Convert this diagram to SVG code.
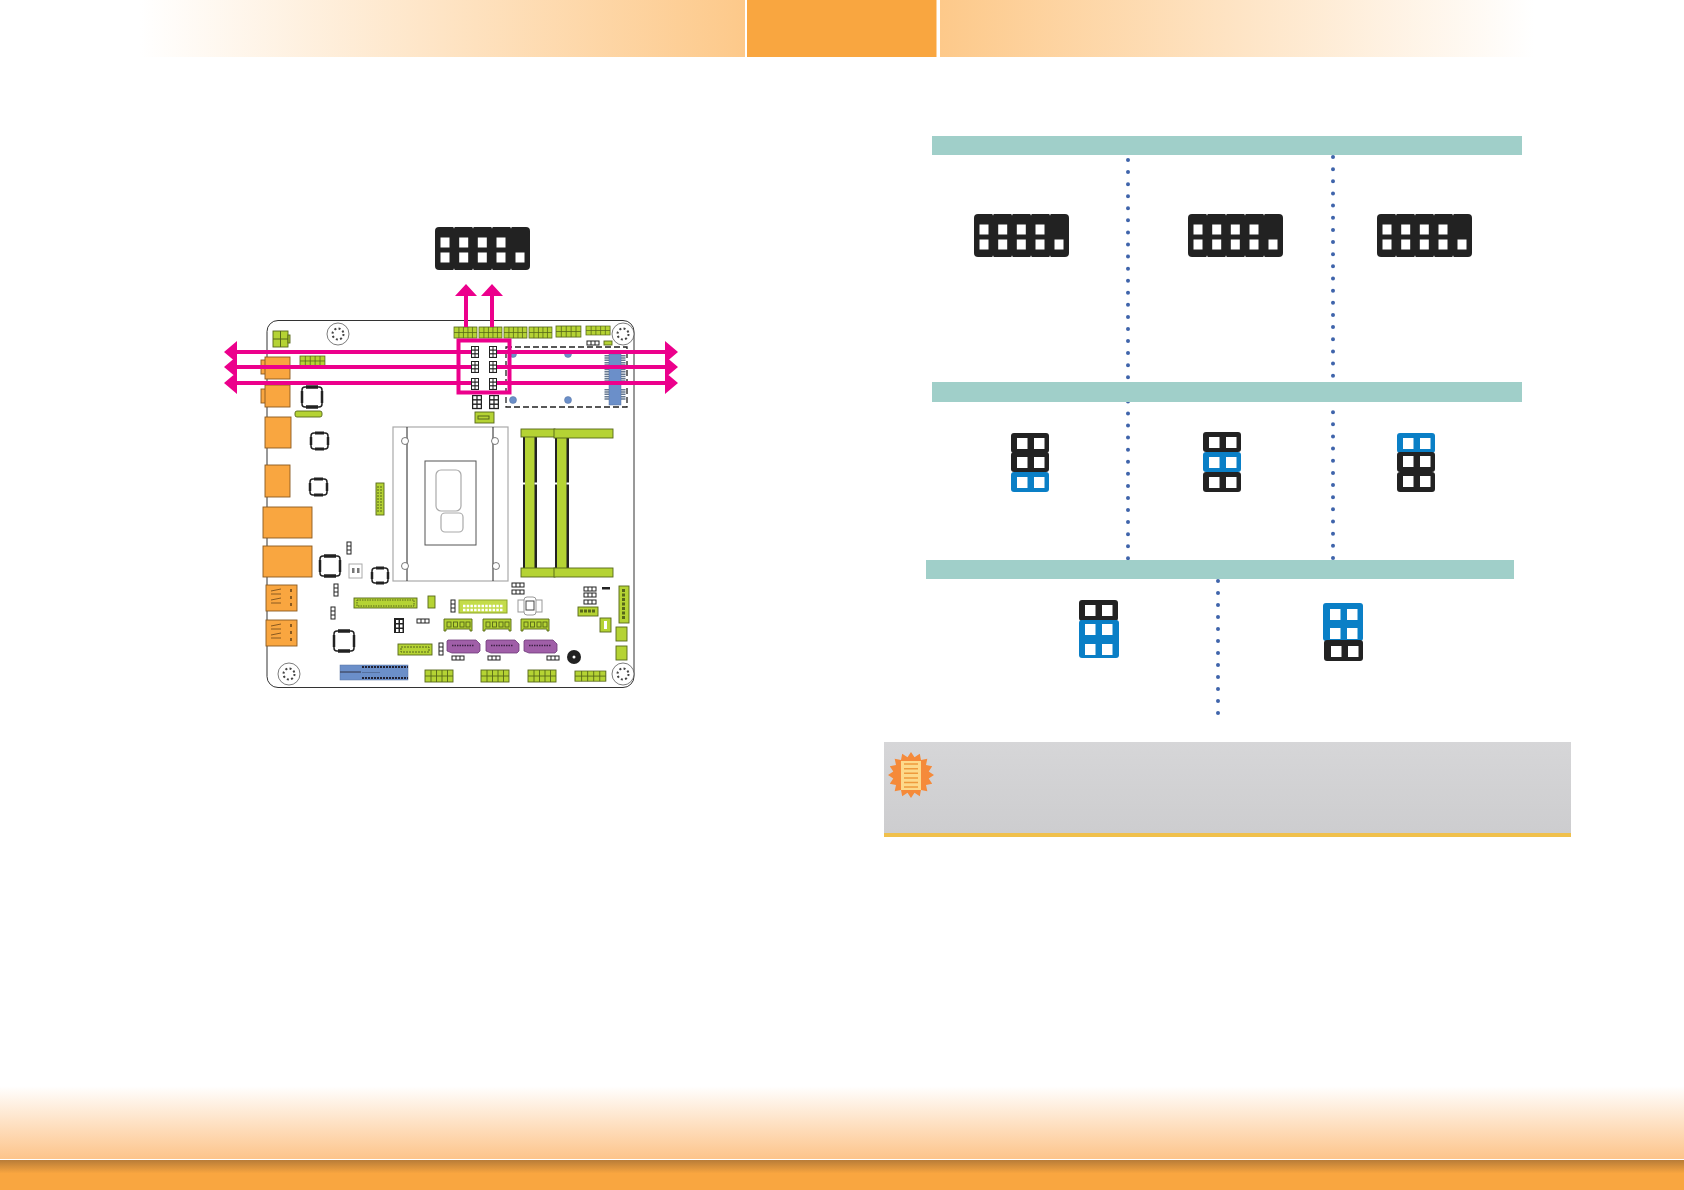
<svg xmlns="http://www.w3.org/2000/svg" width="1684" height="1190" viewBox="0 0 1684 1190">
<style>
.g{fill:#b5d334;stroke:#56661a;stroke-width:.9}
.or{fill:#f9a640;stroke:#8a5a20;stroke-width:.9}
.pu{fill:#a05fa8;stroke:#6e3a78;stroke-width:.8}
.wh{fill:#fff;stroke:#222;stroke-width:1}
.pk{stroke:#ec008c;stroke-width:4;fill:none}
.pf{fill:#ec008c}
.bar{fill:#a0cfc9}
.dot{fill:none;stroke:#3f64ab;stroke-width:4;stroke-linecap:round}
.s{fill:#fff}
.hole{fill:#fff;stroke:#444;stroke-width:.7}
.cpu{fill:#fff;stroke:#aaa;stroke-width:1.2}
.chip{fill:#fff;stroke:#222;stroke-width:1.5}
.bk{fill:#222}
.bl{fill:#0a7fc6}
.bb{fill:#6b8fc9;stroke:#55709f;stroke-width:.5}
</style>
<defs>
<linearGradient id="hl" x1="0" x2="1" y1="0" y2="0"><stop offset="0" stop-color="#fff"/><stop offset="1" stop-color="#fdc98a"/></linearGradient>
<linearGradient id="hr" x1="1" x2="0" y1="0" y2="0"><stop offset="0" stop-color="#fff"/><stop offset="1" stop-color="#fdc98a"/></linearGradient>
<linearGradient id="fa" x1="0" x2="0" y1="0" y2="1"><stop offset="0" stop-color="#fff"/><stop offset="1" stop-color="#fdc48a"/></linearGradient>
<linearGradient id="fb" x1="0" x2="0" y1="0" y2="1"><stop offset="0" stop-color="#b87c38"/><stop offset=".45" stop-color="#f9a640"/><stop offset="1" stop-color="#f9a640"/></linearGradient>
<linearGradient id="ng" x1="0" x2="0" y1="0" y2="1"><stop offset="0" stop-color="#d6d6d8"/><stop offset="1" stop-color="#cdcdcf"/></linearGradient>
<g id="conn">
<rect x="0" y="0" width="95" height="43" rx="4" class="bk"/>
<path d="M19 0v1.200M38 0v1.200M57 0v1.200M76 0v1.200M19 43v-1.200M38 43v-1.200M57 43v-1.200M76 43v-1.200" stroke="#fff" stroke-width="1"/>
<rect x="5.500" y="10.500" width="9" height="10" class="s"/><rect x="24.200" y="10.500" width="9" height="10" class="s"/><rect x="42.800" y="10.500" width="9" height="10" class="s"/><rect x="61.500" y="10.500" width="9" height="10" class="s"/>
<rect x="5.500" y="25.500" width="9" height="10" class="s"/><rect x="24.200" y="25.500" width="9" height="10" class="s"/><rect x="42.800" y="25.500" width="9" height="10" class="s"/><rect x="61.500" y="25.500" width="9" height="10" class="s"/><rect x="80.500" y="25.500" width="9" height="10" class="s"/>
</g>
<g id="jr"><rect x="7" y="5" width="10.500" height="11" class="s"/><rect x="24" y="5" width="10.500" height="11" class="s"/></g>
<g id="mini"><rect width="8" height="12" class="bk"/><rect x="1" y="1" width="2.500" height="2.500" class="s"/><rect x="4.500" y="1" width="2.500" height="2.500" class="s"/><rect x="1" y="4.700" width="2.500" height="2.500" class="s"/><rect x="4.500" y="4.700" width="2.500" height="2.500" class="s"/><rect x="1" y="8.400" width="2.500" height="2.500" class="s"/><rect x="4.500" y="8.400" width="2.500" height="2.500" class="s"/></g>
<g id="hole"><circle r="11" class="hole"/><circle r="5.500" fill="none" stroke="#444" stroke-width="2" stroke-dasharray="2 2.300"/></g>
<g id="w3h"><rect width="12" height="4" class="wh"/><path d="M4 0v4M8 0v4" stroke="#222"/></g>
<g id="w3v"><rect width="4" height="12" class="wh"/><path d="M0 4h4M0 8h4" stroke="#222"/></g>
<g id="gh10"><rect width="28" height="12" class="g"/><path d="M6 0v12M11.500 0v12M17 0v12M22.500 0v12M0 6h28" stroke="#56661a" stroke-width=".9"/></g>
<g id="gh4"><path d="M0 0h28v12h-2v-2h-24v2h-2z" class="g"/><rect x="3" y="3" width="4" height="5" class="g"/><rect x="9.500" y="3" width="4" height="5" class="g"/><rect x="16" y="3" width="4" height="5" class="g"/><rect x="22" y="3" width="4" height="5" class="g"/></g>
<g id="sata"><path d="M0 1l1-1h28l4 4v7l-2 2h-26l-5-2z" class="pu"/><path d="M5 5.500h22" stroke="#3d2245" stroke-width="1.500" stroke-dasharray="1.500 1"/></g>
</defs>

<g id="header">
<rect x="140" y="0" width="605" height="57" fill="url(#hl)"/>
<rect x="747" y="0" width="189.500" height="57" fill="#f9a640"/>
<rect x="940" y="0" width="594" height="57" fill="url(#hr)"/>
</g>
<g id="footer">
<rect x="0" y="1086" width="1684" height="73" fill="url(#fa)"/>
<rect x="0" y="1160" width="1684" height="30" fill="url(#fb)"/>
</g>

<g id="board">
<rect x="267" y="320.500" width="367" height="367" rx="11" fill="#fff" stroke="#333" stroke-width="1"/>
<use href="#hole" x="338" y="334"/><use href="#hole" x="623" y="334"/><use href="#hole" x="289" y="674"/><use href="#hole" x="623" y="674"/>
<g id="power"><rect x="273" y="331" width="15" height="16" class="g"/><rect x="288" y="335" width="2" height="8" class="g"/><path d="M280.500 331v16M273 339h15" stroke="#56661a"/></g>
<g id="top-headers">
<use href="#gh10" transform="translate(454 327) scale(.82 .92)"/><use href="#gh10" transform="translate(479 327) scale(.82 .92)"/><use href="#gh10" transform="translate(504 327) scale(.82 .92)"/><use href="#gh10" transform="translate(529 327) scale(.82 .92)"/><use href="#gh10" transform="translate(556 326) scale(.89 .92)"/><use href="#gh10" transform="translate(586 326) scale(.86 .75)"/>
<use href="#w3h" x="587" y="341"/><rect x="604" y="341" width="8" height="4" class="g"/><use href="#gh10" transform="translate(300 356) scale(.89 .83)"/></g>
<g id="io">
<rect x="261" y="360" width="5" height="14" class="or"/><rect x="265" y="357" width="25" height="22" class="or"/>
<rect x="261" y="389" width="5" height="14" class="or"/><rect x="265" y="385" width="25" height="22" class="or"/>
<rect x="265" y="417" width="26" height="31" class="or"/><rect x="265" y="465" width="25" height="32" class="or"/>
<rect x="263" y="507" width="49" height="31" class="or"/><rect x="263" y="546" width="49" height="31" class="or"/>
<rect x="266" y="585" width="31" height="26" class="or"/><path d="M271 591l10-2M271 594h10M271 600l10-2M271 603h10" stroke="#8a5a20" fill="none"/><path d="M291 589v3M291 596v3M291 603v3" stroke="#8a5a20" stroke-width="2"/>
<rect x="266" y="620" width="31" height="26" class="or"/><path d="M271 626l10-2M271 629h10M271 635l10-2M271 638h10" stroke="#8a5a20" fill="none"/><path d="M291 624v3M291 631v3M291 638v3" stroke="#8a5a20" stroke-width="2"/>
</g>
<g id="chips">
<rect x="302" y="387" width="20" height="20" rx="3" class="chip"/><path d="M306 387h12M306 407h12" stroke="#222" stroke-width="3.500"/><path d="M302 391v12M322 391v12" stroke="#222" stroke-width="2.500"/>
<rect x="311" y="433" width="17" height="16" rx="3" class="chip"/><path d="M315 433h9M315 449h9" stroke="#222" stroke-width="3"/><path d="M311 437v8M328 437v8" stroke="#222" stroke-width="2.500"/>
<rect x="310" y="479" width="17" height="16" rx="3" class="chip"/><path d="M314 479h9M314 495h9" stroke="#222" stroke-width="3"/><path d="M310 483v8M327 483v8" stroke="#222" stroke-width="2.500"/>
<rect x="320" y="556" width="20" height="20" rx="3" class="chip"/><path d="M324 556h12M324 576h12" stroke="#222" stroke-width="3.500"/><path d="M320 560v12M340 560v12" stroke="#222" stroke-width="2.500"/>
<rect x="372" y="568" width="16" height="15" rx="3" class="chip"/><path d="M376 568h8M376 583h8" stroke="#222" stroke-width="3"/><path d="M372 572v7M388 572v7" stroke="#222" stroke-width="2.500"/>
<rect x="334" y="631" width="20" height="20" rx="3" class="chip"/><path d="M338 631h12M338 651h12" stroke="#222" stroke-width="3.500"/><path d="M334 635v12M354 635v12" stroke="#222" stroke-width="2.500"/>
</g>
<rect x="295" y="411" width="27" height="6" rx="2" class="g"/>
<g id="cpu">
<rect x="393" y="427" width="115" height="154" class="cpu"/>
<path d="M407 427v154M493 427v154" stroke="#222"/>
<circle cx="405" cy="441" r="3.500" class="hole"/><circle cx="495" cy="441" r="3.500" class="hole"/><circle cx="405" cy="566" r="3.500" class="hole"/><circle cx="496" cy="566" r="3.500" class="hole"/>
<rect x="425" y="461" width="51" height="84" fill="#fff" stroke="#555"/>
<rect x="436" y="470" width="25" height="41" rx="5" class="cpu"/><rect x="441" y="513" width="22" height="19" rx="4" class="cpu"/>
</g>
<g id="dimm">
<rect x="523" y="437" width="14" height="131" fill="#b5d334"/><rect x="523" y="437" width="2" height="131" class="bk"/><rect x="534.500" y="437" width="2.500" height="131" class="bk"/>
<rect x="555" y="437" width="14" height="131" fill="#b5d334"/><rect x="555" y="437" width="2" height="131" class="bk"/><rect x="566.500" y="437" width="2.500" height="131" class="bk"/>
<path d="M523 483.500h2M534.500 483.500h2.500M555 483.500h2M566.500 483.500h2.500" stroke="#fff" stroke-width="2"/>
<rect x="521" y="429" width="34" height="8" class="g"/><rect x="554" y="429" width="59" height="9" class="g"/>
<rect x="521" y="568" width="34" height="9" class="g"/><rect x="554" y="568" width="59" height="9" class="g"/>
</g>
<g id="m2">
<rect x="506" y="347" width="121" height="60" fill="none" stroke="#222" stroke-width="1.300" stroke-dasharray="6 3"/>
<circle cx="513" cy="354" r="3.500" class="bb"/><circle cx="568" cy="354" r="3.500" class="bb"/><circle cx="513" cy="400" r="3.500" class="bb"/><circle cx="568" cy="400" r="3.500" class="bb"/>
<path d="M607 355v26M623 355v26M607 389v11M623 389v11" stroke="#66788f" stroke-width="5" stroke-dasharray="1.500 .8"/>
<rect x="609" y="354" width="12" height="51" class="bb"/>
</g>
<g id="small-parts">
<use href="#mini" x="471" y="346"/><use href="#mini" x="489" y="346"/><use href="#mini" x="471" y="361"/><use href="#mini" x="489" y="361"/><use href="#mini" x="471" y="378"/><use href="#mini" x="489" y="378"/>
<use href="#mini" transform="translate(472 395) scale(1.250 1.180)"/><use href="#mini" transform="translate(489 395) scale(1.250 1.180)"/>
<rect x="475" y="412" width="19" height="11" class="g"/><rect x="478" y="416" width="11" height="3" fill="none" stroke="#56661a"/>
<rect x="376" y="483" width="8" height="32" class="g"/><path d="M378 486v26M381 486v26" stroke="#56661a" stroke-dasharray="2 1"/>
<rect x="349" y="564" width="13" height="14" fill="#fff" stroke="#aaa"/><rect x="352" y="568" width="2.500" height="5" fill="#777"/><rect x="357" y="568" width="2.500" height="5" fill="#777"/>
<use href="#w3v" x="347" y="542"/><use href="#w3v" x="334" y="584"/><use href="#w3v" x="331" y="607"/><use href="#w3v" x="451" y="600"/><use href="#w3v" x="439" y="643"/>
<rect x="354" y="598" width="63" height="10" class="g"/><rect x="357" y="600" width="57" height="6" fill="none" stroke="#56661a" stroke-dasharray="1.500 1"/>
<rect x="428" y="596" width="7" height="12" class="g"/>
<rect x="459" y="600" width="48" height="13" fill="#c4dc4a" stroke="#8da52a"/><path d="M463 606h40M463 610h40" stroke="#fff" stroke-width="2.500" stroke-dasharray="2.500 1.200"/>
<use href="#w3h" x="512" y="583"/><use href="#w3h" x="512" y="590"/>
<g id="battery"><rect x="518" y="600" width="24" height="12" fill="#fff" stroke="#999"/><rect x="524" y="597" width="12" height="18" rx="3" fill="#fff" stroke="#999"/><rect x="526" y="601" width="8" height="9" fill="#fff" stroke="#444"/></g>
<use href="#w3h" x="584" y="587"/><use href="#w3h" x="584" y="593"/><use href="#w3h" x="584" y="600"/><rect x="602" y="587" width="8" height="2.500" class="bk"/>
<rect x="578" y="607" width="20" height="9" class="g"/><path d="M580 611h16" stroke="#56661a" stroke-width="3" stroke-dasharray="3 1"/>
<rect x="619" y="586" width="10" height="37" class="g"/><path d="M623.500 589v31" stroke="#56661a" stroke-width="3" stroke-dasharray="3 1.500"/>
<rect x="600" y="618" width="11" height="14" class="g"/><rect x="604" y="621" width="3" height="8" class="s"/>
<rect x="616" y="627" width="11" height="14" class="g" stroke="#222"/><rect x="616" y="646" width="11" height="14" class="g"/>
<use href="#gh4" x="444" y="619"/><use href="#gh4" x="483" y="619"/><use href="#gh4" x="521" y="619"/>
<use href="#sata" x="447" y="640"/><use href="#sata" x="486" y="640"/><use href="#sata" x="524" y="640"/>
<rect x="398" y="644" width="34" height="11" class="g"/><rect x="401" y="647" width="28" height="5" fill="none" stroke="#56661a" stroke-dasharray="2 1"/>
<rect x="394" y="618" width="10" height="15" class="bk"/><path d="M396 620h2.500v3h-2.500zM400 620h2.500v3h-2.500zM396 624.500h2.500v3h-2.500zM400 624.500h2.500v3h-2.500zM396 629h2.500v3h-2.500zM400 629h2.500v3h-2.500z" class="s"/>
<use href="#w3h" x="417" y="619"/><use href="#w3h" x="452" y="656"/><use href="#w3h" x="488" y="656"/><use href="#w3h" x="547" y="656"/>
<circle cx="574" cy="657" r="7" fill="#222"/><circle cx="574" cy="657" r="1.500" class="s"/>
</g>
<g id="pcie"><rect x="340" y="665" width="68" height="15" class="bb"/><path d="M362 672.500h18" stroke="#55709f"/><path d="M362 667h46M362 678h46" stroke="#223" stroke-width="2" stroke-dasharray="2 1"/><path d="M340 672h21" stroke="#334"/></g>
<g id="bottom-headers"><use href="#gh10" x="425" y="670"/><use href="#gh10" x="481" y="670"/><use href="#gh10" x="528" y="670"/><use href="#gh10" transform="translate(575 671) scale(1.100 .85)"/></g>
</g>

<g id="connector-main"><use href="#conn" x="435" y="227"/></g>

<g id="connectors">
<rect x="458.500" y="340.500" width="51" height="52" class="pk"/>
<path class="pk" d="M466 327V294M492 327V294M235 352H471M235 367H471M235 383H471M497 352H667M497 367H667M497 383H667"/>
<path class="pf" d="M466 284l11 12h-22zM492 284l11 12h-22zM224 352l13-11v22zM224 367l13-11v22zM224 383l13-11v22zM678 352l-13-11v22zM678 367l-13-11v22zM678 383l-13-11v22z"/>
</g>

<g id="dividers">
<path class="dot" stroke-dasharray="0 12.070" d="M1128 160V560"/>
<path class="dot" stroke-dasharray="0 12.150" d="M1333 157V560"/>
<path class="dot" stroke-dasharray="0 12" d="M1218 581V716"/>
</g>
<g id="bars">
<rect x="932" y="136" width="590" height="19" class="bar"/>
<rect x="932" y="382" width="590" height="20" class="bar"/>
<rect x="926" y="560" width="588" height="19" class="bar"/>
</g>

<g id="pins-1"><use href="#conn" x="974" y="214"/></g>
<g id="pins-2"><use href="#conn" x="1188" y="214"/></g>
<g id="pins-3"><use href="#conn" x="1377" y="214"/></g>

<g id="jumper-1">
<rect x="1011" y="433" width="38" height="20" rx="3" class="bk"/><use href="#jr" x="1010" y="433"/>
<rect x="1011" y="452" width="38" height="20" rx="3" class="bk"/><use href="#jr" x="1010" y="452"/>
<rect x="1011" y="472" width="38" height="20" rx="3" class="bl"/><use href="#jr" x="1010" y="472"/>
</g>
<g id="jumper-2">
<rect x="1203" y="432" width="38" height="20" rx="3" class="bk"/><use href="#jr" x="1202" y="432"/>
<rect x="1203" y="452" width="38" height="20" rx="3" class="bl"/><use href="#jr" x="1202" y="452"/>
<rect x="1203" y="472" width="38" height="20" rx="3" class="bk"/><use href="#jr" x="1202" y="472"/>
</g>
<g id="jumper-3">
<rect x="1397" y="433" width="38" height="20" rx="3" class="bl"/><use href="#jr" x="1396" y="433"/>
<rect x="1397" y="452" width="38" height="20" rx="3" class="bk"/><use href="#jr" x="1396" y="451"/>
<rect x="1397" y="472" width="38" height="20" rx="3" class="bk"/><use href="#jr" x="1396" y="471"/>
</g>
<g id="jumper-4">
<rect x="1079" y="600" width="39" height="21" rx="3" class="bk"/><use href="#jr" x="1078" y="600"/>
<rect x="1079" y="620" width="40" height="38" rx="3" class="bl"/><use href="#jr" x="1078" y="619"/><use href="#jr" x="1078" y="639"/>
</g>
<g id="jumper-5">
<rect x="1323" y="603" width="40" height="38" rx="3" class="bl"/><use href="#jr" x="1323" y="604"/><use href="#jr" x="1323" y="623"/>
<rect x="1324" y="640" width="39" height="21" rx="3" class="bk"/><use href="#jr" x="1324" y="641"/>
</g>

<g id="note">
<rect x="884" y="742" width="687" height="91" fill="url(#ng)"/>
<rect x="884" y="833" width="687" height="4" fill="#f0c04c"/>
<polygon transform="translate(911 775)" points="0,-23 3.500,-17.700 8.800,-21.200 10,-15 16.300,-16.300 15,-10 21.200,-8.800 17.700,-3.500 23,0 17.700,3.500 21.200,8.800 15,10 16.300,16.300 10,15 8.800,21.200 3.500,17.700 0,23 -3.500,17.700 -8.800,21.200 -10,15 -16.300,16.300 -15,10 -21.200,8.800 -17.700,3.500 -23,0 -17.700,-3.500 -21.200,-8.800 -15,-10 -16.300,-16.300 -10,-15 -8.800,-21.200 -3.500,-17.700" fill="#f58a3a"/>
<rect x="901" y="761" width="20" height="29" fill="#fdd98a"/>
<path d="M904 764h14M904 768.700h14M904 773.300h14M904 778h14M904 782.600h14M904 787h14" stroke="#ee9a3c" stroke-width="1.500"/>
</g>
</svg>
